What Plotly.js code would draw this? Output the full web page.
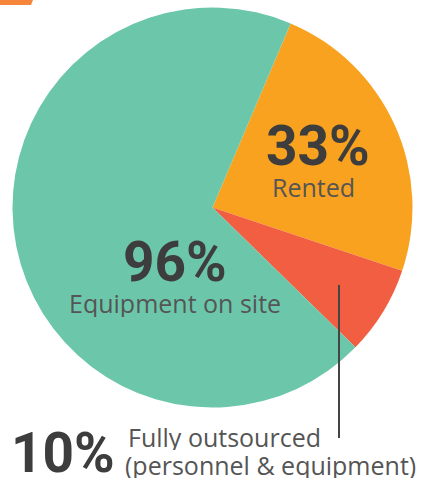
<!DOCTYPE html>
<html>
<head>
<meta charset="utf-8">
<script src="https://cdn.plot.ly/plotly-3.0.1.min.js"></script>
<style>
html,body{margin:0;padding:0;background:#fff;}
#chart{width:425px;height:491px;}
</style>
</head>
<body>
<div id="chart"></div>
<script>
// Data
const labels = ["Rented", "Fully outsourced", "Equipment on site"];
const values = [33, 10, 96];
const percentText = ["33%", "10%", "96%"];
const subText = ["Rented", "Fully outsourced", "Equipment on site"];
const noteText = "(personnel &amp; equipment)";
const colors = ["#F9A21F", "#F15E42", "#6CC7AA"];

const W = 425, H = 491;
const px = x => x / W;
const py = y => 1 - y / H;

const bigFont = {family: "Roboto, 'DejaVu Sans', sans-serif", size: 55, color: "#3D3D3D", weight: 700};
const smallFont = {family: "'Open Sans', Roboto, sans-serif", size: 25, color: "#555555"};

const trace = {
  type: "pie",
  labels: labels,
  values: values,
  marker: {colors: colors, line: {width: 0}},
  sort: false,
  direction: "clockwise",
  rotation: 23,
  textinfo: "none",
  hoverinfo: "none",
  showlegend: false,
  domain: {x: [px(12.5), px(412.5)], y: [py(407.5), py(7.5)]}
};

const ann = (text, x, y, font, xanchor, h) => ({
  text: text, x: px(x), y: py(y), xref: "paper", yref: "paper",
  xanchor: xanchor || "center", yanchor: "middle", showarrow: false, font: font,
  borderpad: 0, height: h
});

const layout = {
  width: W, height: H,
  margin: {l: 0, r: 0, t: 0, b: 0},
  paper_bgcolor: "#ffffff",
  plot_bgcolor: "#ffffff",
  showlegend: false,
  annotations: [
    ann("<b>" + percentText[0] + "</b>", 318, 146, bigFont, "center", 44),
    ann(subText[0], 313, 187, smallFont, "center", 28),
    ann("<b>" + percentText[2] + "</b>", 175, 262, bigFont, "center", 44),
    ann(subText[2], 175, 303, smallFont, "center", 28),
    ann("<b>" + percentText[1] + "</b>", 10, 453, bigFont, "left", 44),
    ann(subText[1], 127, 436, smallFont, "left", 27),
    ann(noteText, 124, 464, smallFont, "left", 27)
  ],
  shapes: [
    {type: "line", xref: "paper", yref: "paper", x0: px(339), x1: px(339), y0: py(285), y1: py(438),
     line: {color: "#444444", width: 2}},
    {type: "path", xref: "paper", yref: "paper",
     path: "M 0 " + py(0) + " L " + px(33) + " " + py(0) + " L " + px(31) + " " + py(5) + " L 0 " + py(5) + " Z",
     fillcolor: "#F4853A", line: {width: 0}}
  ]
};

Plotly.newPlot("chart", [trace], layout, {displayModeBar: false, staticPlot: true});
</script>
</body>
</html>
